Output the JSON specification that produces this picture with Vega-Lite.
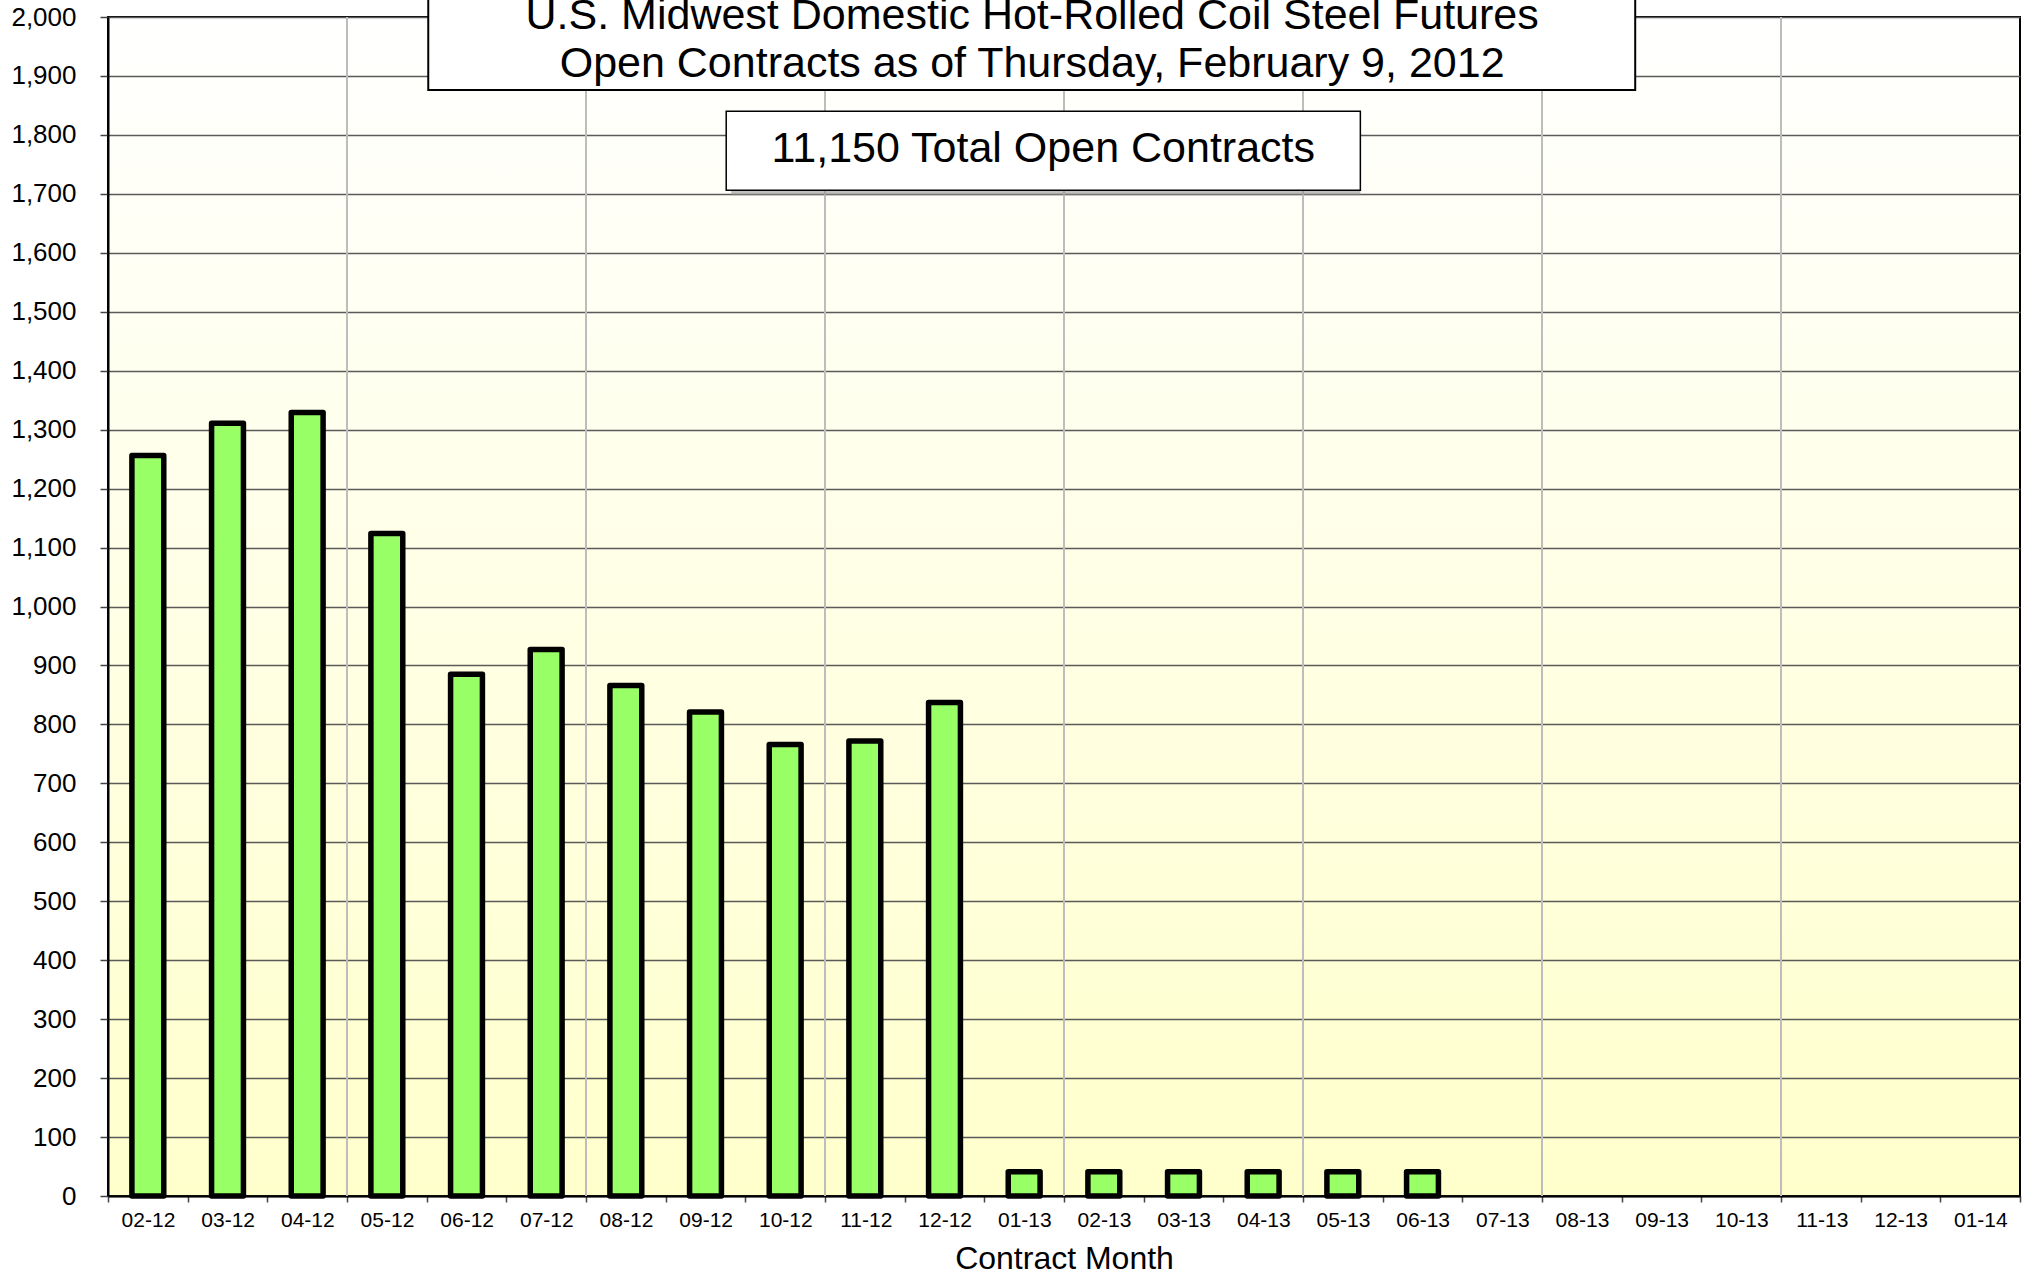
{
  "$schema": "https://vega.github.io/schema/vega-lite/v6.json",
  "width": 1912,
  "height": 1179,
  "autosize": {"type": "none"},
  "padding": {"left": 108, "top": 17, "right": 5, "bottom": 80},
  "background": "white",
  "config": {
    "font": "Liberation Sans",
    "view": {
      "stroke": "black",
      "strokeWidth": 2,
      "fill": {
        "gradient": "linear",
        "x1": 0, "y1": 0, "x2": 0, "y2": 1,
        "stops": [
          {"offset": 0, "color": "#FFFFFF"},
          {"offset": 1, "color": "#FFFFCC"}
        ]
      }
    }
  },
  "datasets": {
    "contracts": [
      {"month": "02-12", "oi": 1256},
      {"month": "03-12", "oi": 1311},
      {"month": "04-12", "oi": 1329},
      {"month": "05-12", "oi": 1124},
      {"month": "06-12", "oi": 885},
      {"month": "07-12", "oi": 927},
      {"month": "08-12", "oi": 866},
      {"month": "09-12", "oi": 821},
      {"month": "10-12", "oi": 766},
      {"month": "11-12", "oi": 772},
      {"month": "12-12", "oi": 837},
      {"month": "01-13", "oi": 41},
      {"month": "02-13", "oi": 41},
      {"month": "03-13", "oi": 41},
      {"month": "04-13", "oi": 41},
      {"month": "05-13", "oi": 41},
      {"month": "06-13", "oi": 41},
      {"month": "07-13", "oi": null},
      {"month": "08-13", "oi": null},
      {"month": "09-13", "oi": null},
      {"month": "10-13", "oi": null},
      {"month": "11-13", "oi": null},
      {"month": "12-13", "oi": null},
      {"month": "01-14", "oi": null}
    ],
    "grid": [
      {"month": "05-12"},
      {"month": "08-12"},
      {"month": "11-12"},
      {"month": "02-13"},
      {"month": "05-13"},
      {"month": "08-13"},
      {"month": "11-13"}
    ]
  },
  "layer": [
    {
      "layer": [
        {
          "data": {"name": "grid"},
          "mark": {"type": "rule", "color": "#BDBDBD", "strokeWidth": 2},
          "encoding": {
            "x": {"field": "month", "type": "ordinal", "bandPosition": 0}
          }
        },
        {
          "data": {"name": "contracts"},
          "mark": {
            "type": "bar",
            "fill": "#99FF66",
            "stroke": "black",
            "strokeWidth": 5.5,
            "strokeJoin": "round",
            "width": {"band": 0.4}
          },
          "encoding": {
            "x": {
              "field": "month",
              "type": "ordinal",
              "sort": null,
              "scale": {
                "domain": ["02-12","03-12","04-12","05-12","06-12","07-12","08-12","09-12","10-12","11-12","12-12","01-13","02-13","03-13","04-13","05-13","06-13","07-13","08-13","09-13","10-13","11-13","12-13","01-14"],
                "paddingInner": 0,
                "paddingOuter": 0
              },
              "axis": {
                "title": "Contract Month",
                "titleFont": "Liberation Sans",
                "titleFontSize": 32,
                "titleFontWeight": "normal",
                "titleColor": "black",
                "titlePadding": 13,
                "labelFont": "Liberation Sans",
                "labelFontSize": 21,
                "labelColor": "black",
                "labelAngle": 0,
                "labelPadding": 18,
                "labelOffset": 27,
                "tickBand": "extent",
                "tickSize": 6,
                "tickColor": "#444444",
                "tickWidth": 1.5,
                "domainColor": "black",
                "domainWidth": 2,
                "grid": false
              }
            },
            "y": {
              "field": "oi",
              "type": "quantitative",
              "scale": {"domain": [0, 2000], "nice": false},
              "axis": {
                "title": null,
                "values": [0,100,200,300,400,500,600,700,800,900,1000,1100,1200,1300,1400,1500,1600,1700,1800,1900,2000],
                "format": ",d",
                "labelFont": "Liberation Sans",
                "labelFontSize": 26,
                "labelColor": "black",
                "labelPadding": 24,
                "tickSize": 8,
                "tickColor": "#444444",
                "tickWidth": 1.5,
                "domainColor": "black",
                "domainWidth": 2,
                "grid": true,
                "gridColor": "#5A5A5A",
                "gridWidth": 1.3
              }
            }
          }
        }
      ]
    },
    {
      "layer": [
        {
          "data": {"values": [{"label": "title"}]},
          "mark": {"type": "rect", "fill": "white", "stroke": "black", "strokeWidth": 2, "clip": false},
          "encoding": {
            "x": {"datum": 4.02, "type": "quantitative", "scale": {"domain": [0, 24]}, "axis": null},
            "x2": {"datum": 19.17},
            "y": {"datum": 1876, "type": "quantitative"},
            "y2": {"datum": 2060}
          }
        },
        {
          "data": {"values": [{"label": "title text"}]},
          "mark": {"type": "text", "fontSize": 43, "font": "Liberation Sans", "color": "black", "align": "center", "baseline": "alphabetic", "lineHeight": 48},
          "encoding": {
            "x": {"datum": 11.6, "type": "quantitative", "scale": {"domain": [0, 24]}, "axis": null},
            "y": {"datum": 1980, "type": "quantitative"},
            "text": {"value": ["U.S. Midwest Domestic Hot-Rolled Coil Steel Futures", "Open Contracts as of Thursday, February 9, 2012"]}
          }
        },
        {
          "data": {"values": [{"label": "shadow"}]},
          "mark": {"type": "rect", "fill": "#8C8C8C", "opacity": 0.55, "xOffset": 5, "yOffset": 5},
          "encoding": {
            "x": {"datum": 7.76, "type": "quantitative", "scale": {"domain": [0, 24]}, "axis": null},
            "x2": {"datum": 15.72},
            "y": {"datum": 1706, "type": "quantitative"},
            "y2": {"datum": 1840}
          }
        },
        {
          "data": {"values": [{"label": "box"}]},
          "mark": {"type": "rect", "fill": "white", "stroke": "black", "strokeWidth": 1.5},
          "encoding": {
            "x": {"datum": 7.76, "type": "quantitative", "scale": {"domain": [0, 24]}, "axis": null},
            "x2": {"datum": 15.72},
            "y": {"datum": 1706, "type": "quantitative"},
            "y2": {"datum": 1840}
          }
        },
        {
          "data": {"values": [{"label": "11,150 Total Open Contracts"}]},
          "mark": {"type": "text", "fontSize": 43, "font": "Liberation Sans", "color": "black", "align": "center", "baseline": "alphabetic"},
          "encoding": {
            "x": {"datum": 11.74, "type": "quantitative", "scale": {"domain": [0, 24]}, "axis": null},
            "y": {"datum": 1754, "type": "quantitative"},
            "text": {"field": "label"}
          }
        }
      ]
    }
  ],
  "resolve": {"scale": {"x": "independent"}, "axis": {"x": "independent"}}
}
